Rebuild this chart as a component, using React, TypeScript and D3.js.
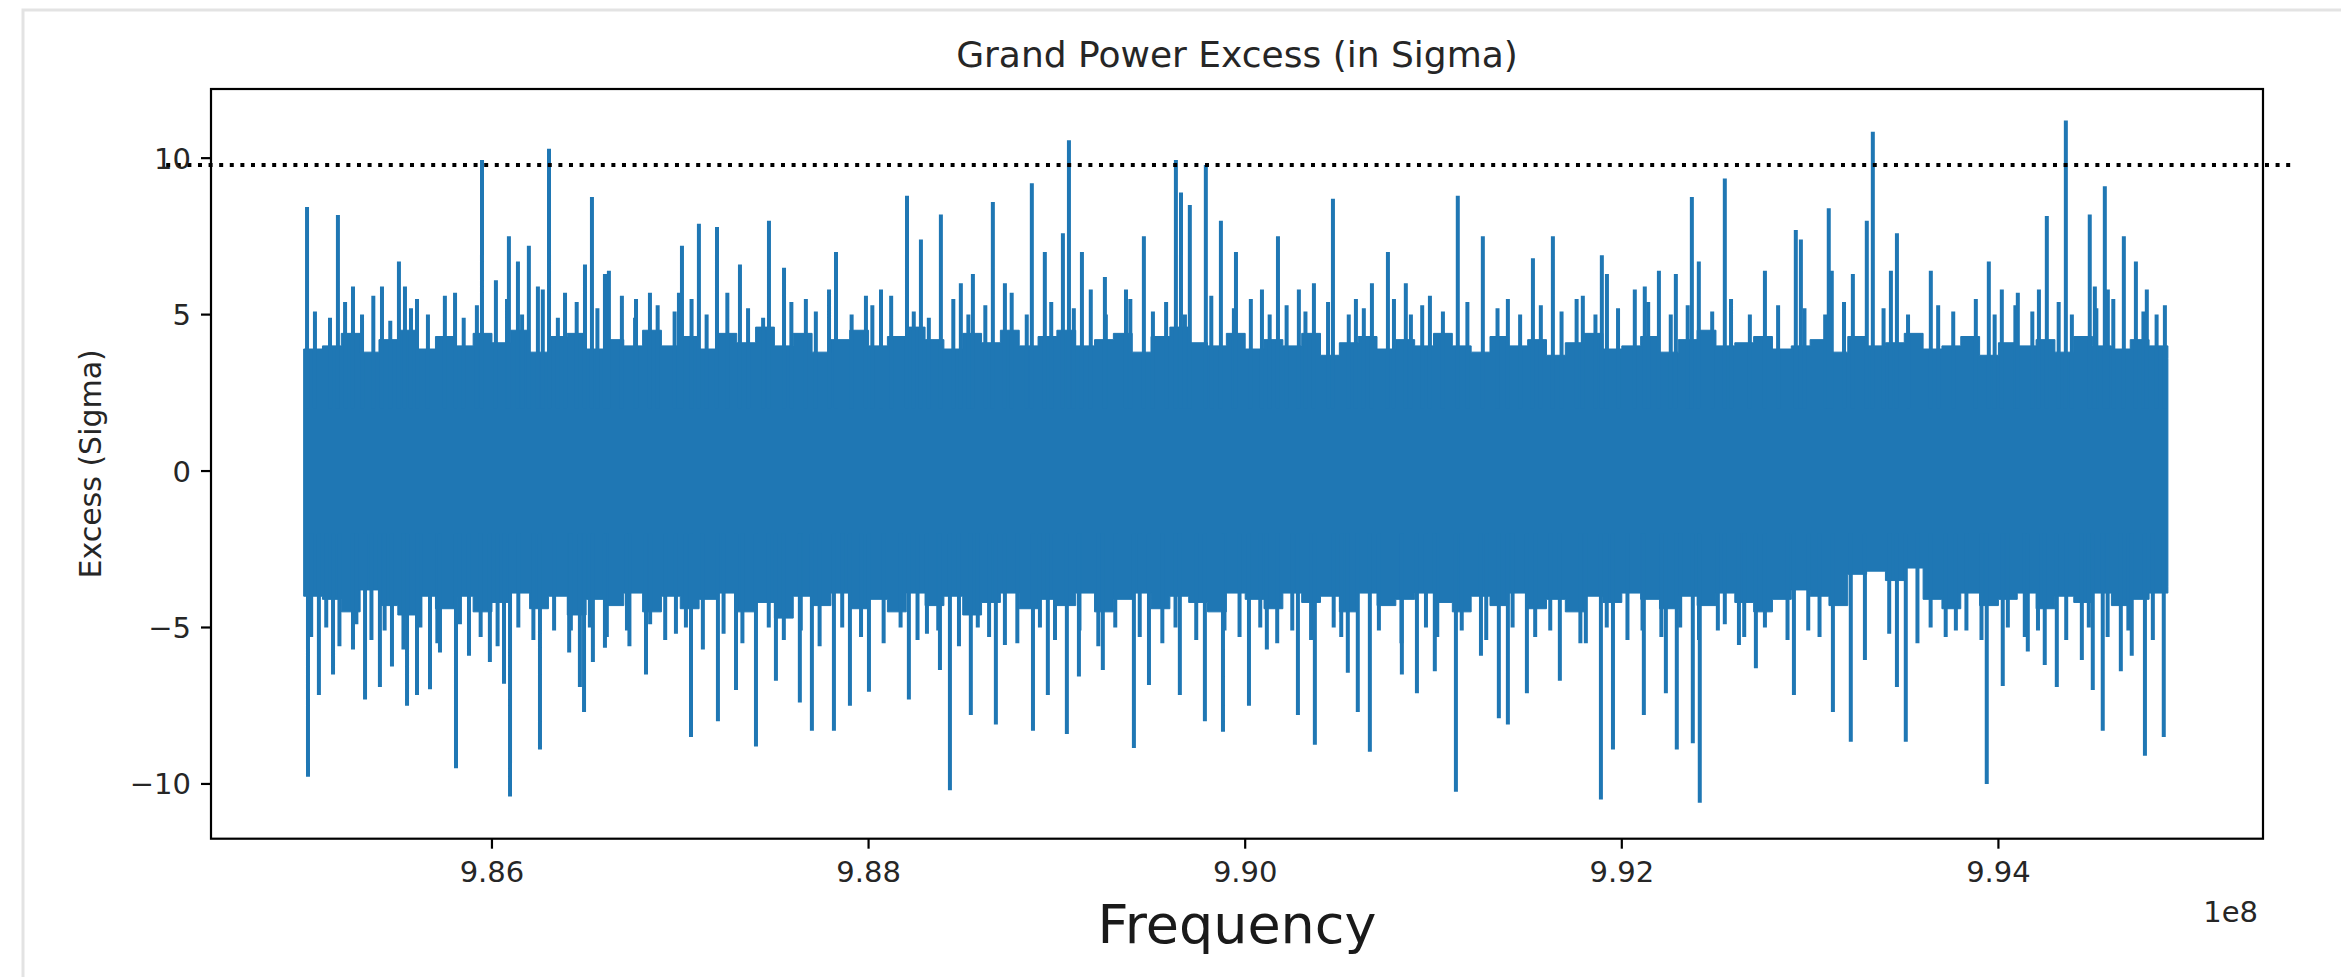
import React from "react";
import * as d3 from "d3";

// ---- data (frequency in units of 1e8 Hz, excess in sigma) ----
const freqGrid = [
  9.850, 9.851, 9.852, 9.853, 9.854, 9.855, 9.856, 9.857, 9.858, 9.859,
  9.860, 9.861, 9.862, 9.863, 9.864, 9.865, 9.866, 9.867, 9.868, 9.869,
  9.870, 9.871, 9.872, 9.873, 9.874, 9.875, 9.876, 9.877, 9.878, 9.879,
  9.880, 9.881, 9.882, 9.883, 9.884, 9.885, 9.886, 9.887, 9.888, 9.889,
  9.890, 9.891, 9.892, 9.893, 9.894, 9.895, 9.896, 9.897, 9.898, 9.899,
  9.900, 9.901, 9.902, 9.903, 9.904, 9.905, 9.906, 9.907, 9.908, 9.909,
  9.910, 9.911, 9.912, 9.913, 9.914, 9.915, 9.916, 9.917, 9.918, 9.919,
  9.920, 9.921, 9.922, 9.923, 9.924, 9.925, 9.926, 9.927, 9.928, 9.929,
  9.930, 9.931, 9.932, 9.933, 9.934, 9.935, 9.936, 9.937, 9.938, 9.939,
  9.940, 9.941, 9.942, 9.943, 9.944, 9.945, 9.946, 9.947, 9.948, 9.949,
];

const bandTop = [
  3.9, 4.0, 4.4, 3.8, 4.2, 4.5, 3.9, 4.3, 4.0, 4.4,
  4.1, 4.5, 3.8, 4.3, 4.4, 3.9, 4.2, 4.0, 4.5, 4.0,
  4.3, 3.9, 4.4, 4.1, 4.6, 4.0, 4.4, 3.8, 4.2, 4.5,
  4.0, 4.3, 4.6, 4.2, 3.9, 4.4, 4.1, 4.5, 4.0, 4.3,
  4.5, 4.0, 4.2, 4.4, 3.8, 4.3, 4.6, 4.1, 4.0, 4.4,
  3.9, 4.2, 4.0, 4.4, 3.7, 4.1, 4.3, 3.9, 4.2, 4.0,
  4.4, 4.0, 3.8, 4.3, 4.0, 4.2, 3.7, 4.1, 4.4, 3.9,
  4.0, 4.3, 3.8, 4.2, 4.5, 4.0, 4.1, 4.3, 3.9, 4.0,
  4.2, 3.8, 4.3, 4.0, 4.1, 4.4, 3.9, 4.0, 4.3, 3.7,
  4.1, 4.0, 4.2, 3.8, 4.3, 4.0, 3.9, 4.2, 4.0, 3.6,
];

const bandBottom = [
  -4.0, -4.1, -4.5, -3.8, -4.3, -4.6, -4.0, -4.4, -4.0, -4.5,
  -4.2, -3.9, -4.4, -4.0, -4.6, -4.1, -4.3, -3.9, -4.5, -4.0,
  -4.4, -4.1, -3.9, -4.5, -4.2, -4.7, -4.0, -4.3, -3.9, -4.4,
  -4.1, -4.5, -3.9, -4.3, -4.0, -4.6, -4.2, -3.9, -4.4, -4.1,
  -4.3, -3.9, -4.5, -4.1, -3.9, -4.4, -4.0, -4.2, -4.5, -3.9,
  -4.1, -4.4, -3.9, -4.2, -4.0, -4.5, -3.9, -4.3, -4.1, -3.9,
  -4.2, -4.5, -4.0, -4.3, -3.9, -4.4, -4.1, -4.5, -4.0, -4.2,
  -3.9, -4.1, -4.4, -4.0, -4.3, -3.9, -4.2, -4.5, -4.1, -3.8,
  -4.0, -4.3, -3.3, -3.2, -3.5, -3.1, -4.1, -4.4, -3.9, -4.3,
  -4.1, -3.9, -4.4, -4.0, -4.2, -3.9, -4.3, -4.1, -3.9, -3.7,
];

const upperSpikes: [number, number][] = [
  [9.85018, 8.44], [9.85182, 8.18], [9.85262, 5.9], [9.85416, 5.9], [9.85506, 6.7],
  [9.85538, 5.9], [9.85602, 5.5], [9.85804, 5.7], [9.85947, 9.94], [9.86021, 6.1],
  [9.8609, 7.5], [9.86138, 6.7], [9.86196, 7.2], [9.86244, 5.9], [9.86303, 10.3],
  [9.86388, 5.7], [9.86494, 6.6], [9.86531, 8.76], [9.866, 6.3], [9.86621, 6.4],
  [9.86765, 5.5], [9.86839, 5.7], [9.86993, 5.7], [9.87009, 7.2], [9.87099, 7.9],
  [9.87195, 7.8], [9.87317, 6.6], [9.87471, 8.0], [9.87551, 6.5], [9.87667, 5.5],
  [9.87827, 7.0], [9.87986, 5.6], [9.88066, 5.8], [9.88204, 8.8], [9.88278, 7.4],
  [9.88384, 8.2], [9.8849, 6.0], [9.88554, 6.3], [9.8866, 8.6], [9.88724, 6.0],
  [9.88867, 9.2], [9.88936, 7.0], [9.89032, 7.6], [9.89064, 10.57], [9.89133, 7.0],
  [9.89255, 6.2], [9.89367, 5.8], [9.89462, 7.5], [9.89632, 9.94], [9.89659, 8.9],
  [9.89706, 8.5], [9.89791, 9.78], [9.89871, 8.0], [9.89951, 7.0], [9.90089, 5.8],
  [9.90174, 7.5], [9.90285, 5.8], [9.90365, 6.0], [9.90466, 8.7], [9.90588, 5.5],
  [9.90673, 6.0], [9.90758, 7.0], [9.90853, 6.0], [9.90981, 5.6], [9.91129, 8.8],
  [9.91262, 7.5], [9.91395, 5.5], [9.91528, 6.8], [9.91634, 7.5], [9.91793, 5.6],
  [9.91894, 6.9], [9.91921, 6.3], [9.92069, 5.8], [9.92122, 5.9], [9.92197, 6.4],
  [9.92287, 6.3], [9.92372, 8.76], [9.92409, 6.7], [9.92547, 9.35], [9.9276, 6.4],
  [9.92924, 7.7], [9.92951, 7.4], [9.93099, 8.4], [9.93115, 6.4], [9.93227, 6.3],
  [9.93301, 8.0], [9.93333, 10.84], [9.93429, 6.4], [9.93461, 7.6], [9.93641, 6.4],
  [9.93949, 6.7], [9.94018, 5.8], [9.94103, 5.7], [9.94215, 5.8], [9.94257, 8.15],
  [9.94358, 11.2], [9.94485, 8.2], [9.94512, 5.9], [9.94565, 9.1], [9.94581, 5.8],
  [9.94666, 7.5], [9.9473, 6.7], [9.94788, 5.8], [9.94884, 5.3],
];

const lowerSpikes: [number, number][] = [
  [9.85023, -9.77], [9.85081, -7.16], [9.85156, -6.5], [9.85262, -5.7], [9.85326, -7.3],
  [9.85405, -6.9], [9.85469, -6.25], [9.85549, -7.5], [9.85602, -7.16], [9.85671, -6.97],
  [9.85724, -5.8], [9.85809, -9.5], [9.85878, -5.9], [9.85989, -6.1], [9.86064, -6.8],
  [9.86096, -10.4], [9.86255, -8.9], [9.86419, -5.1], [9.86467, -6.9], [9.86489, -7.7],
  [9.86536, -6.1], [9.866, -5.65], [9.86717, -5.1], [9.86818, -6.5], [9.86977, -5.2],
  [9.87057, -8.5], [9.872, -8.0], [9.87296, -7.0], [9.87402, -8.8], [9.87508, -6.7],
  [9.87635, -7.4], [9.87699, -8.3], [9.87816, -8.3], [9.87901, -7.5], [9.88002, -7.05],
  [9.88214, -7.3], [9.8831, -5.2], [9.88379, -6.36], [9.88432, -10.2], [9.88543, -7.8],
  [9.88676, -8.1], [9.88724, -5.56], [9.88873, -8.3], [9.88952, -7.16], [9.89053, -8.4],
  [9.89117, -6.57], [9.89244, -6.36], [9.89409, -8.85], [9.89489, -6.84], [9.89653, -7.16],
  [9.89786, -8.0], [9.89882, -8.33], [9.9002, -7.5], [9.90115, -5.7], [9.9028, -7.8],
  [9.9037, -8.75], [9.90545, -6.45], [9.90598, -7.7], [9.90662, -8.97], [9.90832, -6.5],
  [9.90912, -7.1], [9.91007, -6.4], [9.91119, -10.25], [9.91252, -5.9], [9.91347, -7.9],
  [9.91395, -8.1], [9.91496, -7.1], [9.91671, -6.7], [9.91809, -5.5], [9.91889, -10.5],
  [9.91953, -8.9], [9.92117, -7.8], [9.92234, -7.1], [9.92292, -8.9], [9.92377, -8.7],
  [9.92414, -10.6], [9.92547, -4.9], [9.92622, -5.56], [9.92712, -6.3], [9.92914, -7.16],
  [9.93121, -7.7], [9.93216, -8.65], [9.93291, -6.04], [9.93461, -6.9], [9.93508, -8.65],
  [9.93774, -5.1], [9.93938, -10.0], [9.94023, -6.87], [9.94156, -5.77], [9.94246, -6.2],
  [9.9431, -6.9], [9.94443, -6.04], [9.94501, -7.0], [9.94554, -8.3], [9.9465, -6.4],
  [9.94708, -5.9], [9.94778, -9.1], [9.94878, -8.5],
];

// smaller excursions that make up the ragged edge of the band
const upperFringe: [number, number][] = [
  [9.8506, 5.1], [9.8514, 4.9], [9.8522, 5.4], [9.8531, 5.0], [9.8537, 5.6], [9.8546, 4.8],
  [9.8557, 5.2], [9.8566, 5.0], [9.8575, 5.6], [9.8585, 4.9], [9.8592, 5.3], [9.8608, 5.5],
  [9.8616, 5.0], [9.8627, 5.8], [9.8635, 4.9], [9.8645, 5.4], [9.8656, 5.2], [9.8669, 5.6],
  [9.8676, 4.9], [9.8688, 5.3], [9.8697, 5.1], [9.8706, 5.5], [9.8714, 5.0], [9.8725, 5.7],
  [9.8736, 5.2], [9.8744, 4.9], [9.8759, 5.4], [9.8772, 5.1], [9.8779, 5.8], [9.8791, 5.0],
  [9.8802, 5.3], [9.8812, 5.6], [9.8824, 5.1], [9.8832, 4.9], [9.8845, 5.5], [9.8853, 5.0],
  [9.8862, 5.3], [9.8876, 5.7], [9.8884, 5.0], [9.8897, 5.4], [9.8909, 5.2], [9.8918, 5.8],
  [9.8926, 5.0], [9.8939, 5.5], [9.8951, 5.1], [9.8958, 5.4], [9.8968, 5.0], [9.8982, 5.6],
  [9.8994, 5.2], [9.9003, 5.5], [9.9013, 5.0], [9.9022, 5.3], [9.9032, 5.1], [9.9044, 5.4],
  [9.9055, 5.0], [9.9063, 5.2], [9.9079, 5.5], [9.9088, 5.0], [9.9094, 5.3], [9.9105, 5.1],
  [9.9118, 5.4], [9.9134, 5.2], [9.9146, 5.0], [9.9157, 5.3], [9.9168, 5.1], [9.9176, 5.5],
  [9.9186, 5.0], [9.9198, 5.2], [9.9214, 5.4], [9.9226, 5.0], [9.9235, 5.3], [9.9248, 5.1],
  [9.9258, 5.5], [9.9268, 5.0], [9.9283, 5.3], [9.9297, 5.2], [9.9308, 5.0], [9.9318, 5.4],
  [9.9339, 5.2], [9.9352, 5.0], [9.9368, 5.3], [9.9376, 5.1], [9.9388, 5.5], [9.9398, 5.0],
  [9.9409, 5.3], [9.9418, 5.1], [9.9432, 5.4], [9.9439, 5.0], [9.9452, 5.2], [9.9461, 5.5],
  [9.9477, 5.1], [9.9484, 5.0],
];

const lowerFringe: [number, number][] = [
  [9.8504, -5.3], [9.8512, -5.0], [9.8519, -5.6], [9.8528, -4.9], [9.8536, -5.4], [9.8543, -5.1],
  [9.8553, -5.7], [9.8562, -5.0], [9.8571, -5.5], [9.8583, -4.9], [9.8594, -5.3], [9.8603, -5.6],
  [9.8614, -5.0], [9.8622, -5.4], [9.8633, -5.1], [9.8641, -5.8], [9.8652, -5.0], [9.8661, -5.3],
  [9.8673, -5.6], [9.8684, -4.9], [9.8692, -5.4], [9.8703, -5.0], [9.8712, -5.7], [9.8723, -5.2],
  [9.8733, -5.5], [9.8747, -5.0], [9.8755, -5.4], [9.8764, -5.1], [9.8774, -5.6], [9.8786, -5.0],
  [9.8796, -5.3], [9.8808, -5.5], [9.8817, -5.0], [9.8826, -5.4], [9.8837, -5.1], [9.8848, -5.6],
  [9.8858, -5.0], [9.8864, -5.3], [9.8879, -5.5], [9.8891, -5.0], [9.8899, -5.4], [9.8912, -5.1],
  [9.8922, -5.6], [9.8931, -5.0], [9.8944, -5.3], [9.8956, -5.5], [9.8963, -5.0], [9.8974, -5.4],
  [9.8989, -5.1], [9.8997, -5.3], [9.9008, -5.0], [9.9017, -5.5], [9.9025, -5.1], [9.9035, -5.4],
  [9.9047, -5.0], [9.9051, -5.3], [9.9071, -5.1], [9.9083, -5.5], [9.9096, -5.0], [9.9102, -5.3],
  [9.9115, -5.1], [9.9128, -5.4], [9.9142, -5.0], [9.9154, -5.3], [9.9162, -5.1], [9.9178, -5.5],
  [9.9192, -5.0], [9.9203, -5.4], [9.9211, -5.1], [9.9221, -5.3], [9.9231, -5.0], [9.9241, -5.4],
  [9.9251, -5.1], [9.9265, -5.3], [9.9276, -5.0], [9.9288, -5.4], [9.9299, -5.1], [9.9305, -5.3],
  [9.9342, -5.2], [9.9357, -5.5], [9.9364, -5.0], [9.9372, -5.3], [9.9383, -5.1], [9.9391, -5.4],
  [9.9405, -5.0], [9.9414, -5.3], [9.9421, -5.1], [9.9436, -5.4], [9.9448, -5.0], [9.9458, -5.3],
  [9.9469, -5.1], [9.9482, -5.4],
];

const threshold = 9.78;
const thresholdSpan = [9.8427, 9.9558];

const xTicks = [9.86, 9.88, 9.9, 9.92, 9.94];
const yTicks = [-10, -5, 0, 5, 10];

const title = "Grand Power Excess (in Sigma)";
const xLabel = "Frequency";
const yLabel = "Excess (Sigma)";
const offsetLabel = "1e8";

// ---- layout ----
const W = 2341;
const H = 977;
const L = 211;
const R = 2263;
const T = 89;
const B = 838.7;
const C0 = "#1f77b4";
const FONT = "'DejaVu Sans', Verdana, sans-serif";

export default function App() {
  const x = d3.scaleLinear().domain([9.84508, 9.95405]).range([L, R]);
  const y = d3.scaleLinear().domain([-11.75, 12.21]).range([B, T]);

  const band = d3
    .area<number>()
    .x((_, i) => x(freqGrid[i]))
    .y0((_, i) => y(bandBottom[i]))
    .y1((_, i) => y(bandTop[i]))
    .curve(d3.curveStepAfter);
  const bandPath = band(freqGrid) || "";

  const spikePath = (list: [number, number][], base: number) =>
    list.map(([f, v]) => `M${x(f)},${y(base)}V${y(v)}`).join("");

  const tickFont = 29;

  return (
    <svg
      width={W}
      height={H}
      viewBox={`0 0 ${W} ${H}`}
      style={{ position: "absolute", left: 0, top: 0, background: "#fff" }}
    >
      <rect x={0} y={0} width={W} height={H} fill="#fff" />
      {/* notebook output frame */}
      <rect x={23} y={10} width={W} height={H + 20} fill="none" stroke="#e3e3e3" strokeWidth={3} />

      <defs>
        <clipPath id="plotClip">
          <rect x={L} y={T} width={R - L} height={B - T} />
        </clipPath>
      </defs>

      <g clipPath="url(#plotClip)">
        <path d={bandPath} fill={C0} stroke={C0} strokeWidth={1} />
        <path d={spikePath(upperFringe, 2)} stroke={C0} strokeWidth={4} fill="none" />
        <path d={spikePath(lowerFringe, -2)} stroke={C0} strokeWidth={4} fill="none" />
        <path d={spikePath(upperSpikes, 2)} stroke={C0} strokeWidth={4} fill="none" />
        <path d={spikePath(lowerSpikes, -2)} stroke={C0} strokeWidth={4} fill="none" />
      </g>

      {/* threshold dotted line */}
      <line
        x1={x(thresholdSpan[0])}
        x2={x(thresholdSpan[1])}
        y1={y(threshold)}
        y2={y(threshold)}
        stroke="#000"
        strokeWidth={4}
        strokeDasharray="4 6.6"
      />

      {/* spines */}
      <rect x={L} y={T} width={R - L} height={B - T} fill="none" stroke="#000" strokeWidth={2.2} />

      {/* x ticks */}
      {xTicks.map((t) => (
        <g key={"x" + t}>
          <line x1={x(t)} x2={x(t)} y1={B} y2={B + 10} stroke="#000" strokeWidth={2.2} />
          <text
            x={x(t)}
            y={882}
            textAnchor="middle"
            fontFamily={FONT}
            fontSize={tickFont}
            fill="#262626"
          >
            {t.toFixed(2)}
          </text>
        </g>
      ))}

      {/* y ticks */}
      {yTicks.map((t) => (
        <g key={"y" + t}>
          <line x1={L - 10} x2={L} y1={y(t)} y2={y(t)} stroke="#000" strokeWidth={2.2} />
          <text
            x={L - 20}
            y={y(t) + 10.5}
            textAnchor="end"
            fontFamily={FONT}
            fontSize={tickFont}
            fill="#262626"
          >
            {String(t).replace("-", "\u2212")}
          </text>
        </g>
      ))}

      <text x={(L + R) / 2} y={67} textAnchor="middle" fontFamily={FONT} fontSize={36} fill="#262626">
        {title}
      </text>
      <text x={(L + R) / 2} y={943} textAnchor="middle" fontFamily={FONT} fontSize={54} fill="#1a1a1a">
        {xLabel}
      </text>
      <text
        transform={`translate(101, ${(T + B) / 2}) rotate(-90)`}
        textAnchor="middle"
        fontFamily={FONT}
        fontSize={30}
        fill="#262626"
      >
        {yLabel}
      </text>
      <text x={2258} y={922} textAnchor="end" fontFamily={FONT} fontSize={tickFont} fill="#262626">
        {offsetLabel}
      </text>
    </svg>
  );
}
